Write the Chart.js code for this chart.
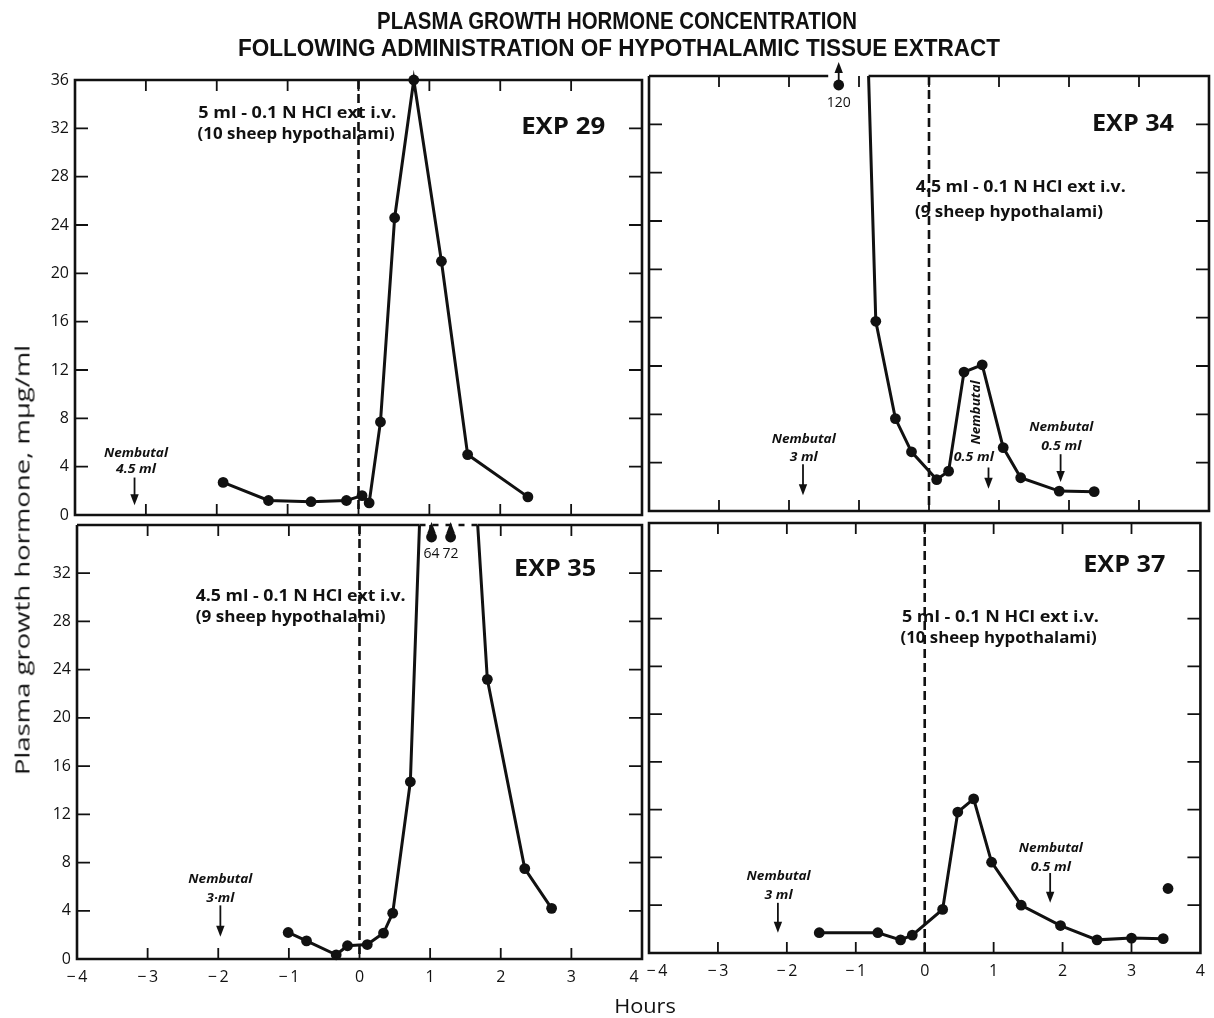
<!DOCTYPE html>
<html>
<head>
<meta charset="utf-8">
<script src="https://cdn.jsdelivr.net/npm/chart.js@4.4.1/dist/chart.umd.min.js"></script>
<style>
  html, body { margin: 0; padding: 0; background: #fff; }
  #wrap { position: relative; width: 1214px; height: 1018px; overflow: hidden; background: #fff; }
  #wrap canvas { position: absolute; left: 0; top: 0; }
  .lbl { position: absolute; white-space: nowrap; color: #111; line-height: 1; }
  .title { font: bold 24px 'Liberation Sans Narrow', 'Liberation Sans', sans-serif; }
  .axis { font: 20px 'Open Sans', sans-serif; }
</style>
</head>
<body>
<div id="wrap">
  <canvas id="c29" width="1214" height="1018"></canvas>
  <canvas id="c34" width="1214" height="1018"></canvas>
  <canvas id="c35" width="1214" height="1018"></canvas>
  <canvas id="c37" width="1214" height="1018"></canvas>
  <div id="t1" class="lbl title">PLASMA GROWTH HORMONE CONCENTRATION</div>
  <div id="t2" class="lbl title">FOLLOWING ADMINISTRATION OF HYPOTHALAMIC TISSUE EXTRACT</div>
  <div id="ylab" class="lbl axis">Plasma growth hormone, mμg/ml</div>
  <div id="xlab" class="lbl axis">Hours</div>
</div>
<script>
// 各実験の値（時間 h, 濃度 mμg/ml）
const exp29Hours  = [-1.91, -1.27, -0.67, -0.17, 0.05, 0.15, 0.31, 0.51, 0.78, 1.17, 1.54, 2.39];
const exp29Values = [2.7, 1.2, 1.1, 1.2, 1.6, 1.0, 7.7, 24.6, 36, 21.0, 5.0, 1.5];

const exp34Hours  = [-1.29, -0.76, -0.48, -0.25, 0.11, 0.28, 0.50, 0.76, 1.06, 1.31, 1.86, 2.36];
const exp34Values = [120, 15.7, 7.65, 4.9, 2.6, 3.3, 11.5, 12.1, 5.25, 2.75, 1.65, 1.6];

const exp35Hours  = [-1.01, -0.75, -0.33, -0.17, 0.11, 0.34, 0.47, 0.72, 1.02, 1.29, 1.81, 2.34, 2.72];
const exp35Values = [2.2, 1.5, 0.35, 1.1, 1.2, 2.15, 3.8, 14.7, 64, 72, 23.2, 7.5, 4.2];

const exp37Hours  = [-1.53, -0.68, -0.35, -0.18, 0.26, 0.48, 0.71, 0.97, 1.40, 1.97, 2.50, 3.00, 3.46];
const exp37Values = [1.7, 1.7, 1.1, 1.5, 3.65, 11.8, 12.9, 7.6, 4.0, 2.3, 1.1, 1.25, 1.2];
// 線で結ばれていない最後の点
const exp37ExtraHours  = [3.53];
const exp37ExtraValues = [5.4];

// 軸
const hourTicks = [-4, -3, -2, -1, 0, 1, 2, 3, 4];
const valueTicks = [0, 4, 8, 12, 16, 20, 24, 28, 32, 36];
const Y_MAX = 36;

// 注記（ネンブタール投与、抽出液の説明）
const exp29Notes = [
  { text: '5 ml - 0.1 N HCl ext i.v.', h: -2.26, v: 33.25, font: 'dose', w: 198, align: 'left' },
  { text: '(10 sheep hypothalami)', h: -2.27, v: 31.5, font: 'dose', w: 197, align: 'left' },
  { text: 'EXP 29', h: 3.48, v: 32.1, font: 'exp', w: 84, align: 'right' },
  { text: 'Nembutal', h: -3.14, v: 5.1, font: 'nemb', w: 64 },
  { text: '4.5 ml', h: -3.14, v: 3.75, font: 'nemb', w: 40 },
  { arrow: true, h: -3.16, from: 3.1, to: 0.8 }
];
const exp34Notes = [
  { text: '4.5 ml - 0.1 N HCl ext i.v.', h: -0.19, v: 26.8, font: 'dose', w: 210, align: 'left' },
  { text: '(9 sheep hypothalami)', h: -0.20, v: 24.7, font: 'dose', w: 188, align: 'left' },
  { text: 'EXP 34', h: 3.5, v: 32.0, font: 'exp', w: 82, align: 'right' },
  { text: 'Nembutal', h: -1.79, v: 5.95, font: 'nemb', w: 64 },
  { text: '3 ml', h: -1.79, v: 4.42, font: 'nemb', w: 28 },
  { arrow: true, h: -1.8, from: 3.87, to: 1.3 },
  { text: 'Nembutal', h: 0.68, v: 8.15, font: 'nemb', w: 64, rotate: true },
  { text: '0.5 ml', h: 0.64, v: 4.42, font: 'nemb', w: 40 },
  { arrow: true, h: 0.85, from: 3.6, to: 1.85 },
  { text: 'Nembutal', h: 1.89, v: 6.9, font: 'nemb', w: 64 },
  { text: '0.5 ml', h: 1.89, v: 5.39, font: 'nemb', w: 40 },
  { arrow: true, h: 1.88, from: 4.7, to: 2.4 }
];
const exp35Notes = [
  { text: '4.5 ml - 0.1 N HCl ext i.v.', h: -2.32, v: 30.1, font: 'dose', w: 210, align: 'left' },
  { text: '(9 sheep hypothalami)', h: -2.32, v: 28.35, font: 'dose', w: 190, align: 'left' },
  { text: 'EXP 35', h: 3.35, v: 32.3, font: 'exp', w: 82, align: 'right' },
  { text: 'Nembutal', h: -1.97, v: 6.6, font: 'nemb', w: 64 },
  { text: '3·ml', h: -1.97, v: 5.0, font: 'nemb', w: 28 },
  { arrow: true, h: -1.97, from: 4.45, to: 1.85 }
];
const exp37Notes = [
  { text: '5 ml - 0.1 N HCl ext i.v.', h: -0.33, v: 28.1, font: 'dose', w: 197, align: 'left' },
  { text: '(10 sheep hypothalami)', h: -0.35, v: 26.3, font: 'dose', w: 196, align: 'left' },
  { text: 'EXP 37', h: 3.49, v: 32.5, font: 'exp', w: 82, align: 'right' },
  { text: 'Nembutal', h: -2.12, v: 6.4, font: 'nemb', w: 64 },
  { text: '3 ml', h: -2.12, v: 4.8, font: 'nemb', w: 28 },
  { arrow: true, h: -2.13, from: 4.2, to: 1.7 },
  { text: 'Nembutal', h: 1.83, v: 8.8, font: 'nemb', w: 64 },
  { text: '0.5 ml', h: 1.83, v: 7.2, font: 'nemb', w: 40 },
  { arrow: true, h: 1.82, from: 6.7, to: 4.2 }
];

const INK = '#111';
const FONTS = {
  dose: "bold 16px 'Open Sans', sans-serif",
  exp: "bold 24px 'Open Sans', sans-serif",
  nemb: "italic bold 13px 'Open Sans', sans-serif",
  num: "14px 'Open Sans', sans-serif"
};

// 横幅を合わせて文字を描く
function fitText(ctx, text, x, y, font, w, align, rotate) {
  ctx.save();
  ctx.translate(x, y);
  if (rotate) ctx.rotate(-Math.PI / 2);
  ctx.font = font;
  const m = ctx.measureText(text).width;
  if (w) ctx.scale(w / m, 1);
  ctx.textAlign = align || 'center';
  ctx.textBaseline = 'middle';
  ctx.fillStyle = INK;
  ctx.fillText(text, 0, 0);
  ctx.restore();
}

function arrow(ctx, x, y1, y2) {
  const dir = y2 > y1 ? 1 : -1;
  ctx.save();
  ctx.lineWidth = 1.8;
  ctx.beginPath();
  ctx.moveTo(x, y1);
  ctx.lineTo(x, y2 - dir * 7);
  ctx.stroke();
  ctx.beginPath();
  ctx.moveTo(x, y2);
  ctx.lineTo(x - 4.2, y2 - dir * 11);
  ctx.lineTo(x + 4.2, y2 - dir * 11);
  ctx.closePath();
  ctx.fill();
  ctx.restore();
}

// 上端を越える区間（枠の上辺を切る範囲）
function topGap(hours, values) {
  let lo = Infinity, hi = -Infinity;
  for (let i = 0; i < hours.length; i++) {
    if (values[i] <= Y_MAX) continue;
    lo = Math.min(lo, hours[i] - 0.15);
    hi = Math.max(hi, hours[i] + 0.15);
    [i - 1, i + 1].forEach(j => {
      if (j < 0 || j >= hours.length || values[j] > Y_MAX) return;
      const t = (values[i] - Y_MAX) / (values[i] - values[j]);
      const hc = hours[i] + (hours[j] - hours[i]) * t;
      lo = Math.min(lo, hc);
      hi = Math.max(hi, hc);
    });
  }
  return lo < hi ? [lo, hi] : null;
}

function hourLabel(v, side) {
  let s = v < 0 ? '\u2212\u2009' + (-v) : String(v);
  // 左右パネルの境目「4-4」を少し離す
  if (side === 'left' && v === 4) s = s + '\u2003';
  if (side === 'right' && v === -4) s = '\u2003' + s;
  return s;
}

function buildPanel(id, cfg) {
  const W = 1214, H = 1018;
  const a = cfg.area;
  const yW = cfg.yLabels ? 40 : 0;
  const xH = cfg.xLabels ? 30 : 0;
  const gap = topGap(cfg.hours, cfg.values);

  const datasets = [{
    data: cfg.hours.map((h, i) => ({ x: h, y: cfg.values[i] })),
    borderColor: INK,
    backgroundColor: INK,
    borderWidth: 3,
    pointRadius: cfg.values.map(v => v > Y_MAX ? 0 : 5.4),
    pointBorderWidth: 0,
    tension: 0,
    clip: { left: 10, top: cfg.clipTop, right: 10, bottom: 10 }
  }];
  if (cfg.extraHours) {
    datasets.push({
      data: cfg.extraHours.map((h, i) => ({ x: h, y: cfg.extraValues[i] })),
      showLine: false,
      borderColor: INK,
      backgroundColor: INK,
      pointRadius: 5.4,
      pointBorderWidth: 0,
      clip: 10
    });
  }

  const panelPlugin = {
    id: 'panel_' + id,
    beforeDatasetsDraw(chart) {
      // 投与時刻の破線
      const { ctx, chartArea: ca, scales: { x } } = chart;
      const px = x.getPixelForValue(0);
      ctx.save();
      ctx.strokeStyle = INK;
      ctx.lineWidth = 2.6;
      ctx.setLineDash([9, 5]);
      ctx.beginPath();
      ctx.moveTo(px, ca.top);
      ctx.lineTo(px, ca.bottom);
      ctx.stroke();
      ctx.restore();
    },
    afterDatasetsDraw(chart) {
      const { ctx, chartArea: ca, scales: { x, y } } = chart;
      ctx.save();
      ctx.strokeStyle = INK;
      ctx.fillStyle = INK;

      // 枠
      ctx.lineWidth = 2.6;
      ctx.beginPath();
      ctx.moveTo(ca.left, ca.top);
      ctx.lineTo(ca.left, ca.bottom);
      ctx.lineTo(ca.right, ca.bottom);
      ctx.lineTo(ca.right, ca.top);
      if (gap) {
        const g0 = x.getPixelForValue(gap[0]);
        const g1 = x.getPixelForValue(gap[1]);
        ctx.lineTo(g1, ca.top);
        ctx.moveTo(g0, ca.top);
        ctx.lineTo(ca.left, ca.top);
        ctx.stroke();
        if (cfg.gapDash) {
          ctx.setLineDash([6, 7]);
          ctx.beginPath();
          ctx.moveTo(g0, ca.top);
          ctx.lineTo(g1, ca.top);
          ctx.stroke();
          ctx.setLineDash([]);
        }
      } else {
        ctx.closePath();
        ctx.stroke();
      }

      // 内向きの目盛り
      ctx.lineWidth = 1.8;
      ctx.beginPath();
      x.ticks.forEach(t => {
        if (t.value <= x.min || t.value >= x.max) return;
        const px = x.getPixelForValue(t.value);
        ctx.moveTo(px, ca.top); ctx.lineTo(px, ca.top + 11);
        ctx.moveTo(px, ca.bottom); ctx.lineTo(px, ca.bottom - 11);
      });
      y.ticks.forEach(t => {
        if (t.value <= y.min || t.value >= y.max) return;
        const py = y.getPixelForValue(t.value);
        ctx.moveTo(ca.left, py); ctx.lineTo(ca.left + 13, py);
        ctx.moveTo(ca.right, py); ctx.lineTo(ca.right - 13, py);
      });
      ctx.stroke();

      // 枠外の値（矢印と数値）
      cfg.hours.forEach((h, i) => {
        const v = cfg.values[i];
        if (v <= Y_MAX) return;
        const px = x.getPixelForValue(h);
        const py = ca.top + cfg.offDot;
        ctx.beginPath();
        ctx.arc(px, py, 5.4, 0, Math.PI * 2);
        ctx.fill();
        arrow(ctx, px, py - 5, ca.top + cfg.offTip);
        fitText(ctx, String(v), px, ca.top + cfg.offLabel, FONTS.num);
      });

      // 注記
      cfg.notes.forEach(n => {
        const px = x.getPixelForValue(n.h);
        if (n.arrow) {
          arrow(ctx, px, y.getPixelForValue(n.from), y.getPixelForValue(n.to));
        } else {
          fitText(ctx, n.text, px, y.getPixelForValue(n.v), FONTS[n.font], n.w, n.align, n.rotate);
        }
      });
      ctx.restore();
    }
  };

  return new Chart(document.getElementById(id), {
    type: 'line',
    data: { datasets },
    options: {
      responsive: false,
      animation: false,
      events: [],
      layout: {
        autoPadding: false,
        padding: { left: a.left - yW, right: W - a.right, top: a.top, bottom: H - a.bottom - xH }
      },
      plugins: { legend: { display: false }, tooltip: { enabled: false } },
      scales: {
        x: {
          type: 'linear',
          min: -4,
          max: 4,
          afterBuildTicks: s => { s.ticks = hourTicks.map(v => ({ value: v })); },
          afterFit: s => { s.height = xH; },
          grid: { display: false, drawTicks: false },
          border: { display: false },
          ticks: {
            display: cfg.xLabels,
            padding: 9,
            maxRotation: 0,
            autoSkip: false,
            color: INK,
            font: { family: "'Open Sans', sans-serif", size: 16 },
            callback: v => hourLabel(v, cfg.side)
          }
        },
        y: {
          type: 'linear',
          min: 0,
          max: Y_MAX,
          afterBuildTicks: s => { s.ticks = valueTicks.map(v => ({ value: v })); },
          afterFit: s => { s.width = yW; },
          grid: { display: false, drawTicks: false },
          border: { display: false },
          ticks: {
            display: cfg.yLabels,
            padding: 6,
            autoSkip: false,
            color: INK,
            font: { family: "'Open Sans', sans-serif", size: 16 },
            callback: v => (cfg.hideTop && v === Y_MAX) ? '' : String(v)
          }
        }
      }
    },
    plugins: [panelPlugin]
  });
}

buildPanel('c29', {
  area: { left: 75, top: 80, right: 642, bottom: 515 },
  hours: exp29Hours, values: exp29Values, notes: exp29Notes,
  yLabels: true, xLabels: false, side: 'left', clipTop: 10
});
buildPanel('c34', {
  area: { left: 649, top: 76, right: 1209, bottom: 511 },
  hours: exp34Hours, values: exp34Values, notes: exp34Notes,
  yLabels: false, xLabels: false, side: 'right', clipTop: 0,
  offDot: 9, offTip: -14, offLabel: 27, gapDash: false
});
buildPanel('c35', {
  area: { left: 77, top: 525, right: 642, bottom: 959 },
  hours: exp35Hours, values: exp35Values, notes: exp35Notes,
  yLabels: true, xLabels: true, side: 'left', clipTop: 0, hideTop: true,
  offDot: 12, offTip: -3, offLabel: 29, gapDash: true
});
buildPanel('c37', {
  area: { left: 649, top: 523, right: 1209, bottom: 953 },
  hours: exp37Hours, values: exp37Values, notes: exp37Notes,
  extraHours: exp37ExtraHours, extraValues: exp37ExtraValues,
  yLabels: false, xLabels: true, side: 'right', clipTop: 10
});

// 見出しと軸名（幅を合わせて配置）
function place(id, cx, cy, width, rotate) {
  const el = document.getElementById(id);
  const k = width / el.offsetWidth;
  el.style.left = cx + 'px';
  el.style.top = cy + 'px';
  el.style.transform = 'translate(-50%, -50%)' + (rotate ? ' rotate(-90deg)' : '') + ' scale(' + k + ', 1)';
}
place('t1', 617, 21, 480);
place('t2', 619, 48, 762);
place('ylab', 22, 560, 430, true);
place('xlab', 645, 1005, 62);
</script>
</body>
</html>
